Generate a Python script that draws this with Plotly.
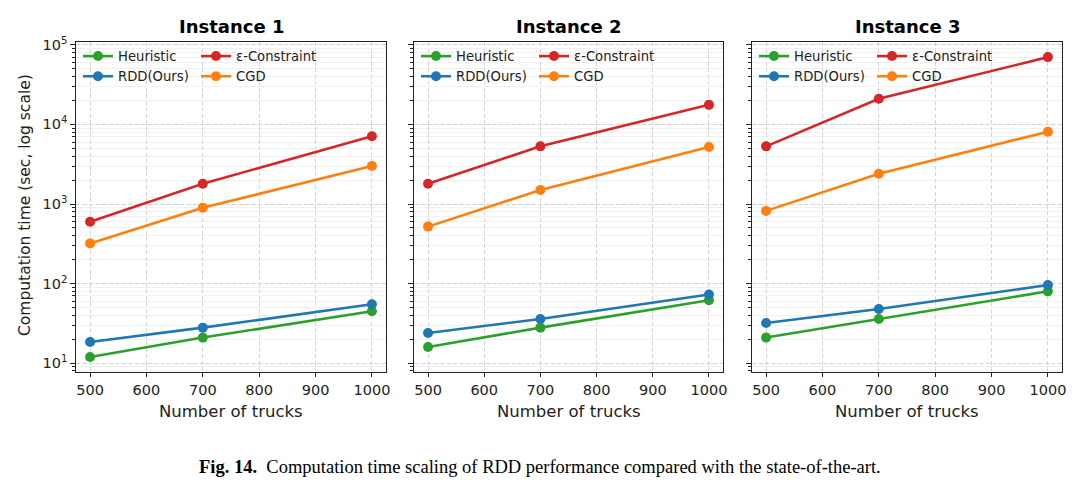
import plotly.graph_objects as go

trucks = [500, 700, 1000]
instances = ["Instance 1", "Instance 2", "Instance 3"]

heuristic = [[12, 21, 45], [16, 28, 62], [21, 36, 80]]
rdd = [[18.5, 28, 55], [24, 36, 73], [32, 48, 96]]
eps_constraint = [[600, 1800, 7100], [1800, 5300, 17600], [5300, 21000, 70000]]
cgd = [[320, 900, 3000], [520, 1500, 5200], [820, 2400, 8100]]

y_tickvals = [10, 100, 1000, 10000, 100000]
y_ticktext = ["10<sup>1</sup>", "10<sup>2</sup>", "10<sup>3</sup>", "10<sup>4</sup>", "10<sup>5</sup>"]
x_tickvals = [500, 600, 700, 800, 900, 1000]

series = [
    ("Heuristic", heuristic, "#2ca02c", 0),
    ("RDD(Ours)", rdd, "#1f77b4", 0),
    ("ε-Constraint", eps_constraint, "#d62728", 1),
    ("CGD", cgd, "#ff7f0e", 1),
]

W, H = 1080, 493
xdom_px = [(76, 386), (414, 723), (752, 1062)]
ytop, ybot = 42, 372
ydom = [1 - ybot / H, 1 - ytop / H]

fig = go.Figure()

font_main = "DejaVu Sans"
legend_layouts = {}
for i in range(3):
    for name, data, color, col in series:
        lg_idx = 1 + i * 2 + col
        lg_name = "legend" if lg_idx == 1 else f"legend{lg_idx}"
        fig.add_trace(go.Scatter(
            x=trucks, y=data[i], name=name, mode="lines+markers",
            line=dict(color=color, width=2.6),
            marker=dict(color=color, size=10),
            xaxis=f"x{i+1}" if i else "x", yaxis=f"y{i+1}" if i else "y",
            legend=lg_name, legendgroup=f"{name}{i}", showlegend=True,
        ))
        x0 = xdom_px[i][0]
        lx = (x0 + 2 + (118 if col else 0)) / W
        legend_layouts[lg_name] = dict(
            x=lx, y=1 - 41 / H, xanchor="left", yanchor="top",
            bgcolor="rgba(255,255,255,0)", borderwidth=0,
            font=dict(family=font_main, size=13.2, color="#222"),
            tracegroupgap=0, itemwidth=30, orientation="v",
        )

layout = dict(
    width=W, height=H, margin=dict(l=0, r=0, t=0, b=0),
    paper_bgcolor="white", plot_bgcolor="white", showlegend=True,
    font=dict(family=font_main, color="#222"),
)
layout.update(legend_layouts)

annotations = []
for i in range(3):
    xd = [xdom_px[i][0] / W, xdom_px[i][1] / W]
    xk = "xaxis" if i == 0 else f"xaxis{i+1}"
    yk = "yaxis" if i == 0 else f"yaxis{i+1}"
    layout[xk] = dict(
        domain=xd, range=[475, 1025], anchor="y" if i == 0 else f"y{i+1}",
        tickvals=x_tickvals, ticks="outside", ticklen=4,
        tickcolor="#222", showline=True, linecolor="#222", linewidth=1.2, mirror=True,
        showgrid=True, gridcolor="#d4d4d4", griddash="4px,2.5px", gridwidth=1,
        tickfont=dict(family=font_main, size=14.5, color="#222"), zeroline=False,
        automargin=False,
    )
    layout[yk] = dict(
        domain=ydom, type="log", range=[0.89, 5.035],
        anchor="x" if i == 0 else f"x{i+1}",
        tickvals=y_tickvals, ticktext=y_ticktext,
        ticks="outside", ticklen=4.5, tickcolor="#222",
        showline=True, linecolor="#222", linewidth=1.2, mirror=True,
        showgrid=True, gridcolor="#d4d4d4", griddash="4px,2.5px", gridwidth=1,
        minor=dict(ticks="outside", ticklen=2.5, tickcolor="#222", dtick="D1",
                   showgrid=True, gridcolor="#f1f1f1", gridwidth=0.8, griddash="solid"),
        showticklabels=(i == 0),
        tickfont=dict(family=font_main, size=14.5, color="#222"), zeroline=False,
        automargin=False,
    )
    cx = (xdom_px[i][0] + xdom_px[i][1]) / 2 / W
    annotations.append(dict(
        text=f"<b>{instances[i]}</b>", x=cx, y=1 - 27 / H, xref="paper", yref="paper",
        showarrow=False, font=dict(family=font_main, size=18, color="black"),
        xanchor="center", yanchor="middle",
    ))
    annotations.append(dict(
        text="Number of trucks", x=cx, y=1 - 411 / H, xref="paper", yref="paper",
        showarrow=False, font=dict(family=font_main, size=16.5, color="#222"),
        xanchor="center", yanchor="middle",
    ))

annotations.append(dict(
    text="Computation time (sec, log scale)", x=25 / W, y=1 - 205 / H,
    xref="paper", yref="paper", showarrow=False, textangle=-90,
    font=dict(family=font_main, size=15.5, color="#222"),
    xanchor="center", yanchor="middle",
))
annotations.append(dict(
    text="<b>Fig. 14.</b>  Computation time scaling of RDD performance compared with the state-of-the-art.",
    x=540 / W, y=1 - 467 / H, xref="paper", yref="paper", showarrow=False,
    font=dict(family="Liberation Serif", size=18.5, color="black"),
    xanchor="center", yanchor="middle",
))
layout["annotations"] = annotations

fig.update_layout(**layout)
fig.write_html("out.html", config={"displayModeBar": False},
               post_script="document.body.style.margin='0px';document.body.style.padding='0px';")
